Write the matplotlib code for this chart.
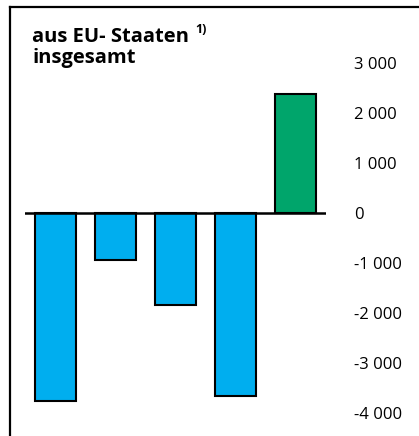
import matplotlib
matplotlib.use("Agg")
import matplotlib.pyplot as plt
from matplotlib.lines import Line2D

plt.rcParams['font.family'] = ['Open Sans', 'DejaVu Sans']

categories = ["1", "2", "3", "4", "insgesamt"]
values = [-3760, -940, -1840, -3660, 2380]
colors = ["#00AEEF", "#00AEEF", "#00AEEF", "#00AEEF", "#00A56B"]
yticks = [3000, 2000, 1000, 0, -1000, -2000, -3000, -4000]
yticklabels = ["3 000", "2 000", "1 000", "0", "-1 000", "-2 000", "-3 000", "-4 000"]

W, H = 419, 436
fig = plt.figure(figsize=(W / 100, H / 100), dpi=100)
# axes in pixel coordinates
x0, x1 = 25, 326
ytop, ybot = 30, 430
ax = fig.add_axes([x0 / W, (H - ybot) / H, (x1 - x0) / W, (ybot - ytop) / H])
ax.set_xlim(-0.51, 4.51)
ax.set_ylim(-(ybot - 213) / 50 * 1000, (213 - ytop) / 50 * 1000)

xs = list(range(len(values)))
ax.bar(xs, values, width=0.68, color=colors, edgecolor="black", linewidth=1.5, zorder=2)
ax.axhline(0, color="black", linewidth=1.8, zorder=3)

for s in ax.spines.values():
    s.set_visible(False)
ax.set_xticks([])
ax.yaxis.tick_right()
ax.set_yticks(yticks)
ax.set_yticklabels(yticklabels, fontsize=12)
ax.tick_params(axis="y", length=0, pad=20)

# frame lines
fig.add_artist(Line2D([10 / W, 10 / W], [0, (H - 7) / H], color="black", linewidth=1.6, transform=fig.transFigure))
fig.add_artist(Line2D([10 / W, 1], [(H - 7) / H, (H - 7) / H], color="black", linewidth=1.6, transform=fig.transFigure))

fig.text(32 / W, (H - 42) / H, "aus EU- Staaten", fontsize=14.5, fontweight="bold", va="baseline", ha="left")
fig.text(32 / W, (H - 63) / H, "insgesamt", fontsize=14.5, fontweight="bold", va="baseline", ha="left")
fig.text(195 / W, (H - 33) / H, "1)", fontsize=9, fontweight="bold", va="baseline", ha="left")

fig.savefig("out.png", dpi=100)
